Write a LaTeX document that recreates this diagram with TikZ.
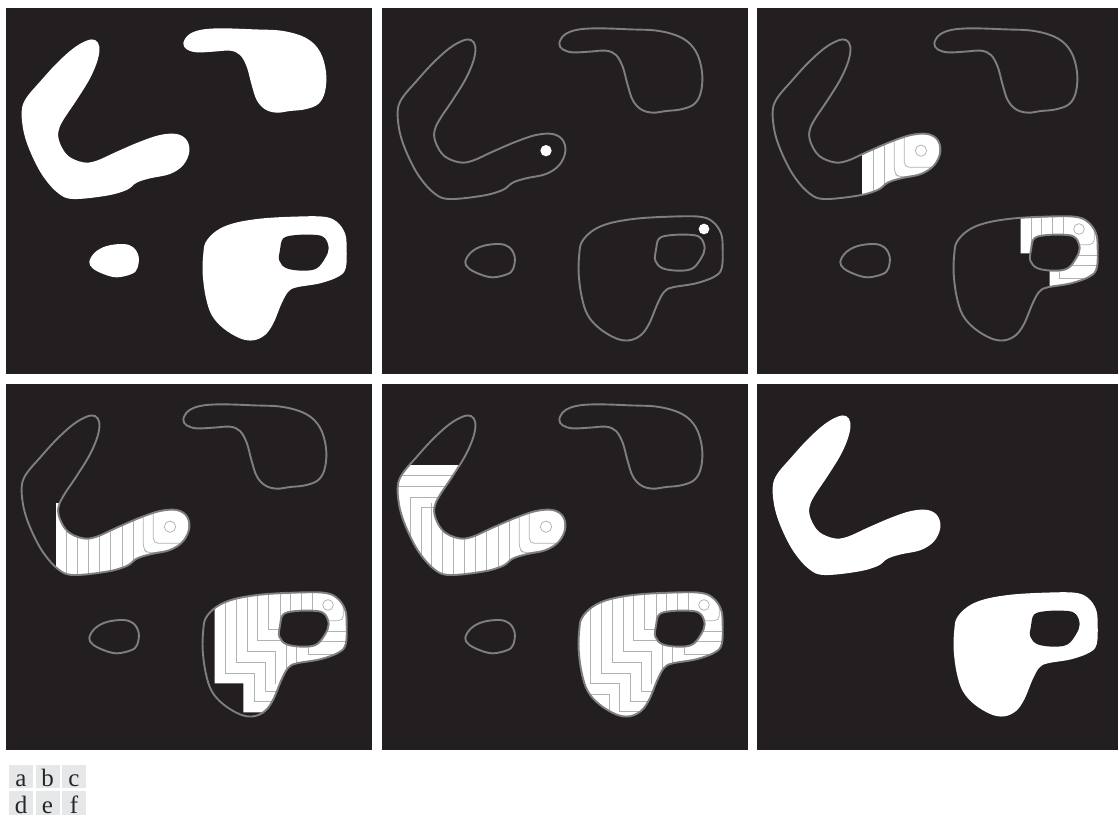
\documentclass[tikz,border=0pt]{standalone}
\usepackage{fontspec}
\setmainfont{Liberation Serif}
\definecolor{nenToi}{HTML}{231F20}
\definecolor{vienXam}{HTML}{7F7F7F}
\definecolor{nenNhan}{HTML}{E6E7E8}
\tikzset{
  panelunit/.style={x=0.33333pt,y=-0.33333pt},
  panelbg/.style={fill=nenToi},
  blobfill/.style={fill=white},
  bloboutline/.style={draw=vienXam,line width=1.9pt},
  holefill/.style={fill=nenToi},
  innerline/.style={draw=gray!60,line width=0.75pt},
  roundline/.style={innerline,rounded corners=5pt},
  lblcell/.style={fill=nenNhan,inner sep=0pt,minimum width=24pt,minimum height=23.4pt,
    text height=21pt,text depth=0.2pt,font=\fontsize{25}{25}\selectfont,text=black!85},
}
\newcommand{\shapeBoom}{plot[smooth cycle,tension=0.6] coordinates {(285,120) (298,140) (293,180) (270,235) (230,300) (190,360) (175,395) (180,430) (205,468) (250,487) (290,482) (350,455) (420,425) (480,405) (530,402) (560,420) (568,455) (550,495) (510,522) (450,535) (410,548) (380,570) (320,587) (220,597) (175,580) (130,530) (95,465) (72,400) (65,335) (78,295) (120,245) (170,190) (220,145) (260,122)}}
\newcommand{\shapeTop}{plot[smooth cycle,tension=0.6] coordinates {(550,130) (565,105) (600,90) (660,85) (760,88) (850,93) (920,115) (960,155) (978,215) (975,275) (955,312) (915,328) (870,333) (830,338) (795,328) (770,300) (755,255) (740,200) (720,165) (690,152) (640,155) (590,157) (560,148)}}
\newcommand{\shapeDrop}{plot[smooth cycle,tension=0.6] coordinates {(268,785) (285,757) (320,738) (370,732) (400,742) (416,770) (412,805) (395,822) (350,832) (310,822) (278,805)}}
\newcommand{\shapeBig}{plot[smooth cycle,tension=0.6] coordinates {(610,760) (618,725) (650,692) (700,670) (780,656) (880,650) (970,650) (1010,665) (1035,700) (1040,745) (1037,805) (1015,830) (960,850) (890,862) (865,875) (845,910) (820,970) (795,1005) (760,1021) (720,1015) (670,985) (635,945) (617,890) (608,820)}}
\newcommand{\shapeHole}{plot[smooth cycle,tension=0.6] coordinates {(850,715) (890,705) (950,705) (975,715) (986,745) (975,775) (950,805) (910,812) (860,805) (838,782) (840,750)}}
% Duong trong cua hinh cong
\newcommand{\boomLinesC}{
  \foreach \x in {366,399}
    \draw[innerline] (\x,380) -- (\x,620);
  \draw[roundline] (430,400) -- (430,520) -- (445,532) -- (520,522);
  \draw[roundline] (460,400) -- (460,502) -- (560,502);
  \draw[innerline] (566,420) -- (566,490);
  \draw[innerline] (510,452) circle (17);
}
\newcommand{\boomLinesD}{
  \foreach \x in {200,233,265,298,332}
    \draw[innerline] (\x,380) -- (\x,620);
}
\newcommand{\boomLinesE}{
  \foreach \x in {167}
    \draw[innerline] (\x,380) -- (\x,620);
  \draw[innerline] (135,620) -- (135,395) -- (190,395);
  \draw[innerline] (103,620) -- (103,364) -- (200,364);
  \draw[innerline] (60,332) -- (215,332);
  \draw[innerline] (60,299) -- (235,299);
}
% Duong trong cua hinh lon
\newcommand{\bigLinesC}{
  \foreach \x in {840,872,904,936}
    \draw[innerline] (\x,630) -- (\x,760);
  \draw[roundline] (1030,690) -- (1030,734) -- (975,734);
  \draw[innerline] (975,767) -- (1045,767);
  \draw[innerline] (950,797) -- (1045,797);
  \draw[innerline] (925,800) -- (925,834) -- (1045,834);
  \draw[innerline] (984,687) circle (16);
}
\newcommand{\bigLinesD}{
  \draw[innerline] (676,630) -- (676,892) -- (762,892) -- (762,977) -- (830,977);
  \draw[innerline] (708,630) -- (708,860) -- (795,860) -- (795,945) -- (845,945);
  \draw[innerline] (741,630) -- (741,827) -- (827,827) -- (827,925);
  \draw[innerline] (773,630) -- (773,794) -- (858,794) -- (858,885);
  \draw[innerline] (806,630) -- (806,760) -- (850,760);
  \draw[innerline] (890,800) -- (890,875);
}
\newcommand{\bigLinesE}{
  \draw[innerline] (644,630) -- (644,922) -- (729,922) -- (729,1007) -- (810,1007);
  \draw[innerline] (610,954) -- (699,954) -- (699,1030);
}
% Vien cua cac hinh
\newcommand{\outlineTop}{\draw[bloboutline] \shapeTop; \draw[bloboutline] \shapeDrop;}
\newcommand{\outlineHole}{\draw[bloboutline,holefill] \shapeHole;}
\begin{document}
\begin{tikzpicture}[x=1pt,y=-1pt]
    \useasboundingbox (0,0) rectangle (1119,815);

    % Anh a
    \begin{scope}[panelunit]
    \fill[panelbg] (18,24) rectangle (1116,1122);
    \fill[blobfill] \shapeBoom;
    \fill[blobfill] \shapeTop;
    \fill[blobfill] \shapeDrop;
    \fill[blobfill] \shapeBig;
    \fill[holefill] \shapeHole;
    \end{scope}

    % Anh b
    \begin{scope}[panelunit,xshift=376pt]
    \fill[panelbg] (18,24) rectangle (1116,1122);
    \outlineTop
    \draw[bloboutline] \shapeBoom;
    \draw[bloboutline] \shapeBig;
    \draw[bloboutline] \shapeHole;
    \fill[white] (510,452) circle (17);
    \fill[white] (984,687) circle (16);
    \end{scope}

    % Anh c
    \begin{scope}[panelunit,xshift=751pt]
    \fill[panelbg] (18,24) rectangle (1102,1122);
    \begin{scope}
    \clip \shapeBoom;
    \fill[white] (334,380) rectangle (600,620);
    \boomLinesC
    \end{scope}
    \begin{scope}
    \clip \shapeBig;
    \fill[white] (809,630) -- (809,760) -- (896,760) -- (896,880) -- (1060,880) -- (1060,630) -- cycle;
    \bigLinesC
    \end{scope}
    \outlineTop
    \draw[bloboutline] \shapeBoom;
    \draw[bloboutline] \shapeBig;
    \outlineHole
    \end{scope}

    % Anh d
    \begin{scope}[panelunit,yshift=-376pt]
    \fill[panelbg] (18,24) rectangle (1116,1122);
    \begin{scope}
    \clip \shapeBoom;
    \fill[white] (168,380) rectangle (600,620);
    \boomLinesC
    \boomLinesD
    \end{scope}
    \begin{scope}
    \clip \shapeBig;
    \fill[white] (644,630) -- (644,922) -- (730,922) -- (730,1009) -- (1060,1009) -- (1060,630) -- cycle;
    \bigLinesC
    \bigLinesD
    \end{scope}
    \outlineTop
    \draw[bloboutline] \shapeBoom;
    \draw[bloboutline] \shapeBig;
    \outlineHole
    \end{scope}

    % Anh e
    \begin{scope}[panelunit,xshift=376pt,yshift=-376pt]
    \fill[panelbg] (18,24) rectangle (1116,1122);
    \begin{scope}
    \clip \shapeBoom;
    \fill[white] (40,267) rectangle (600,620);
    \boomLinesC
    \boomLinesD
    \boomLinesE
    \end{scope}
    \begin{scope}
    \clip \shapeBig;
    \fill[white] (590,630) rectangle (1060,1040);
    \bigLinesC
    \bigLinesD
    \bigLinesE
    \end{scope}
    \outlineTop
    \draw[bloboutline] \shapeBoom;
    \draw[bloboutline] \shapeBig;
    \outlineHole
    \end{scope}

    % Anh f
    \begin{scope}[panelunit,xshift=751pt,yshift=-376pt]
    \fill[panelbg] (18,24) rectangle (1102,1122);
    \fill[blobfill] \shapeBoom;
    \fill[blobfill] \shapeBig;
    \fill[holefill] \shapeHole;
    \end{scope}

    % Nhan
    \node[lblcell] (lblA) at (21,776.3) {a};
    \node[lblcell] (lblB) at (47.5,776.3) {b};
    \node[lblcell] (lblC) at (74,776.3) {c};
    \node[lblcell] (lblD) at (21,802.8) {d};
    \node[lblcell] (lblE) at (47.5,802.8) {e};
    \node[lblcell] (lblF) at (74,802.8) {f};
\end{tikzpicture}
\end{document}
